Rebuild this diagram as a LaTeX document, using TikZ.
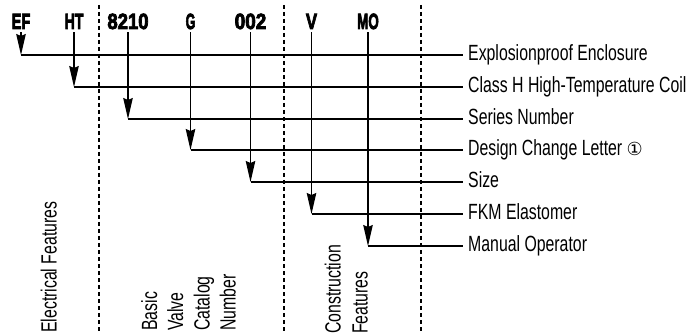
\documentclass[tikz,border=0pt]{standalone}
\usepackage{fontspec}
\setmainfont{Liberation Sans}[FakeStretch=0.72]
\newfontfamily\codefont{Liberation Sans}[BoldFeatures={FakeBold=4}]
\newfontfamily\symfont{DejaVu Sans}
\usetikzlibrary{arrows.meta}
\begin{document}
\begin{tikzpicture}[x=1pt,y=1pt,
  lab/.style={font=\fontsize{22}{26}\selectfont, inner xsep=5pt, inner ysep=0pt, text height=10.5pt, text depth=0pt, anchor=west},
  code/.style={font=\fontsize{22}{26}\selectfont\codefont\bfseries, inner xsep=0pt, inner ysep=3pt, anchor=base},
  conn/.style={line width=1.3pt},
  arr/.style={conn, -{Stealth[length=21pt,width=9.5pt,inset=2pt]}},
  sep/.style={line width=1.1pt, dash pattern=on 4pt off 3pt},
  rot/.style={font=\fontsize{22}{26}\selectfont, rotate=90, anchor=base west, inner sep=0pt}]
\useasboundingbox (0,0) rectangle (696,335);
% separators
\draw[sep] (99,330) -- (99,4);
\draw[sep] (284,330) -- (284,4);
\draw[sep] (421,330) -- (421,4);
% codes
\node[code] (ef) at (21,306) {\scalebox{0.66}[1]{EF}};
\node[code] (ht) at (74,306) {\scalebox{0.64}[1]{HT}};
\node[code] (sn) at (128,306) {\scalebox{0.84}[1]{8210}};
\node[code] (g) at (190.5,306) {\scalebox{0.56}[1]{G}};
\node[code] (sz) at (250.5,306) {\scalebox{0.86}[1]{002}};
\node[code] (v) at (311.5,306) {\scalebox{0.76}[1]{V}};
\node[code] (mo) at (368,306) {\scalebox{0.61}[1]{MO}};
% labels
\node[lab] (l1) at (463,280) {Explosionproof Enclosure};
\node[lab] (l2) at (463,248) {Class H High-Temperature Coil};
\node[lab] (l3) at (463,216) {Series Number};
\node[lab] (l4) at (463,185) {Design Change Letter {\symfont\fontsize{18}{20}\selectfont ①}};
\node[lab] (l5) at (463,153) {Size};
\node[lab] (l6) at (463,121) {FKM Elastomer};
\node[lab] (l7) at (463,89) {Manual Operator};
% horizontal lines
\foreach \c/\l in {ef/l1,ht/l2,sn/l3,g/l4,sz/l5,v/l6,mo/l7}{
  \draw[conn] (\c.south |- \l.west) -- (\l.west);
}
% arrows
\foreach \c/\l in {ef/l1,ht/l2,sn/l3,g/l4,sz/l5,v/l6,mo/l7}{
  \draw[arr] (\c.south) -- (\c.south |- \l.west);
}
% group labels
\node[rot] (gel) at (56.5,2) {Electrical Features};
\node[rot] (gb1) at (157,4) {Basic};
\node[rot] (gb2) at (183,4) {Valve};
\node[rot] (gb3) at (209.5,4) {Catalog};
\node[rot] (gb4) at (235.5,4) {Number};
\node[rot] (gc1) at (340.5,1) {Construction};
\node[rot] (gc2) at (367.5,1) {Features};
\end{tikzpicture}
\end{document}
